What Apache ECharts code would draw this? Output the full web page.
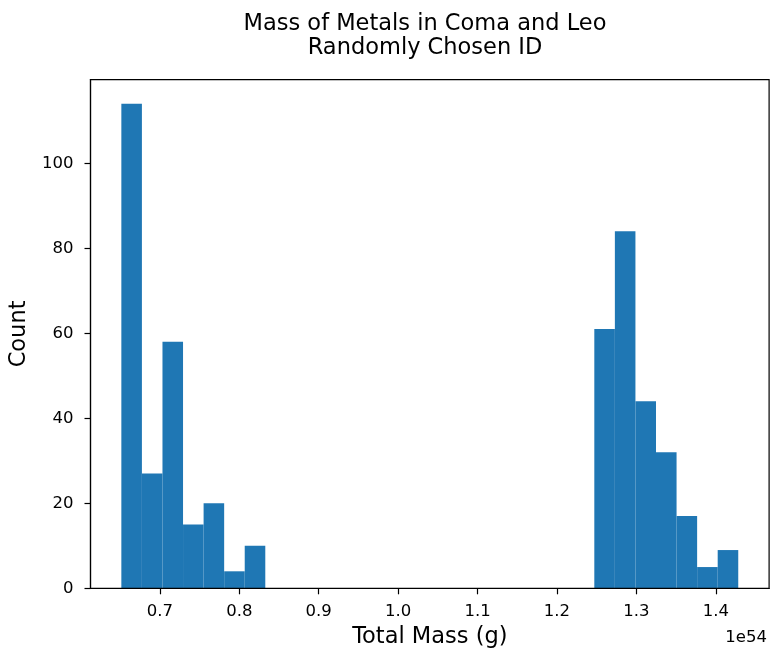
<!DOCTYPE html>
<html>
<head>
<meta charset="utf-8">
<script src="https://cdn.jsdelivr.net/npm/echarts@6/dist/echarts.min.js"></script>
<style>html,body{margin:0;padding:0;background:#fff;}#c{width:770px;height:650px;}</style>
</head>
<body>
<div id="c"></div>
<script>
// Histogram data (values in units of 1e54 g)
const binStart = 0.6515;
const binEnd = 1.4283;
const counts = [114, 27, 58, 15, 20, 4, 10, 0, 0, 0, 0, 0, 0, 0, 0, 0, 0, 0, 0, 0, 0, 0, 0, 61, 84, 44, 32, 17, 5, 9];
const xTicks = [0.7, 0.8, 0.9, 1.0, 1.1, 1.2, 1.3, 1.4];
const yTicks = [0, 20, 40, 60, 80, 100];
const titleText = 'Mass of Metals in Coma and Leo\nRandomly Chosen ID';
const xName = 'Total Mass (g)';
const yName = 'Count';
const offsetText = '1e54';

const nBins = counts.length;
const binW = (binEnd - binStart) / nBins;
const data = counts.map((c, i) => [binStart + i * binW, binStart + (i + 1) * binW, c]);
const span = binEnd - binStart;
const xMin = binStart - 0.05 * span, xMax = binEnd + 0.05 * span;
const yMax = Math.max(...counts) * 1.05;

const FONT = 'DejaVu Sans';
const chart = echarts.init(document.getElementById('c'), null, {renderer: 'canvas'});
chart.setOption({
  animation: false,
  backgroundColor: '#fff',
  title: {
    text: titleText, left: 420, top: 7, textAlign: 'center',
    textStyle: {fontFamily: FONT, fontSize: 22.5, fontWeight: 'normal', color: '#000', lineHeight: 24}
  },
  grid: {left: 90.5, top: 79.6, width: 678.6, height: 508.7, containLabel: false, outerBoundsMode: 'none'},
  xAxis: {
    type: 'value', min: xMin, max: xMax,
    name: xName, nameLocation: 'middle', nameGap: 37,
    nameTextStyle: {fontFamily: FONT, fontSize: 22.5, color: '#000'},
    axisLine: {show: true, onZero: false, lineStyle: {color: '#000', width: 1.2}},
    axisTick: {show: true, length: 6, customValues: xTicks, lineStyle: {color: '#000', width: 1.2}},
    axisLabel: {customValues: xTicks, margin: 15, fontFamily: FONT, fontSize: 16.5, color: '#000',
      formatter: v => v.toFixed(1)},
    splitLine: {show: false}
  },
  yAxis: {
    type: 'value', min: 0, max: yMax,
    name: yName, nameLocation: 'middle', nameGap: 59,
    nameTextStyle: {fontFamily: FONT, fontSize: 22.5, color: '#000'},
    axisLine: {show: true, onZero: false, lineStyle: {color: '#000', width: 1.2}},
    axisTick: {show: true, length: 6, customValues: yTicks, lineStyle: {color: '#000', width: 1.2}},
    axisLabel: {customValues: yTicks, margin: 17, fontFamily: FONT, fontSize: 16.5, color: '#000'},
    splitLine: {show: false}
  },
  graphic: [
    {type: 'rect', shape: {x: 90.5, y: 79.6, width: 678.6, height: 508.7}, silent: true, z: 10,
      style: {fill: 'none', stroke: '#000', lineWidth: 1.2}},
    {type: 'text', right: 3, top: 629, z: 10,
      style: {text: offsetText, fontFamily: FONT, fontSize: 16.5, fill: '#000'}}
  ],
  series: [{
    type: 'custom',
    data: data,
    encode: {x: [0, 1], y: 2},
    renderItem: function (params, api) {
      const p0 = api.coord([api.value(0), 0]);
      const p1 = api.coord([api.value(1), api.value(2)]);
      return {
        type: 'rect',
        shape: {x: p0[0], y: p1[1], width: p1[0] - p0[0], height: p0[1] - p1[1]},
        style: {fill: '#1f77b4'}
      };
    }
  }]
});
</script>
</body>
</html>
